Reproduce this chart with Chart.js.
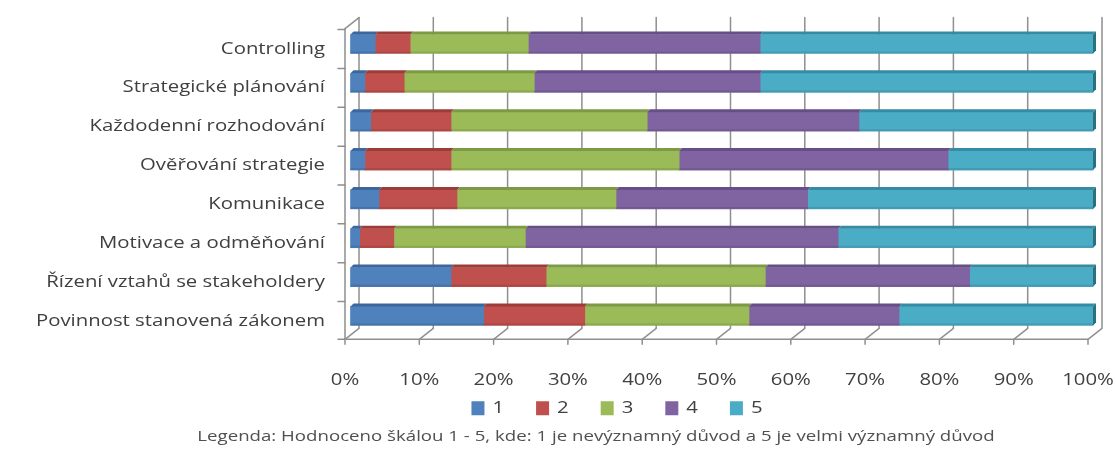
<!DOCTYPE html>
<html>
<head>
<meta charset="utf-8">
<script src="https://cdn.jsdelivr.net/npm/chart.js@4.4.1/dist/chart.umd.min.js"></script>
<style>
  html, body { margin: 0; padding: 0; background: #ffffff; }
  #wrap { width: 1116px; height: 452px; }
</style>
</head>
<body>
<div id="wrap"><canvas id="chart" width="1116" height="452"></canvas></div>
<script>
// Reasons, each rated on a 1–5 scale (share of respondents, %)
const categories = [
  'Controlling',
  'Strategické plánování',
  'Každodenní rozhodování',
  'Ověřování strategie',
  'Komunikace',
  'Motivace a odměňování',
  'Řízení vztahů se stakeholdery',
  'Povinnost stanovená zákonem'
];
const seriesNames = ['1', '2', '3', '4', '5'];
const score1 = [3.4, 2.0, 2.8, 2.0, 3.9, 1.3, 13.6, 18.0];
const score2 = [4.7, 5.3, 10.8, 11.6, 10.5, 4.6, 12.8, 13.6];
const score3 = [15.9, 17.5, 26.4, 30.7, 21.4, 17.7, 29.5, 22.1];
const score4 = [31.2, 30.4, 28.5, 36.2, 25.8, 42.1, 27.5, 20.2];
const score5 = [44.8, 44.8, 31.5, 19.5, 38.4, 34.3, 16.6, 26.1];
const xTicks = [0, 10, 20, 30, 40, 50, 60, 70, 80, 90, 100];
const caption = 'Legenda: Hodnoceno škálou 1 - 5, kde: 1 je nevýznamný důvod a 5 je velmi významný důvod';

const faceColors = ['#4f81bd', '#c0504d', '#9bbb59', '#8064a2', '#4bacc6'];
const topColors  = ['#3b679c', '#9c3c39', '#7c9a45', '#654f86', '#358ba3'];
const sideColors = ['#2f5580', '#7f302e', '#627a36', '#4f3d69', '#2a6f82'];

// depth of the 3-D box (back wall is shifted right and up)
const DEPTH_X = 14, DEPTH_Y = -11;
// bars sit in the middle of the depth
const BAR_DX = 5, BAR_DY = -5;
const LINE = '#8f8f8f';
const FONT = "'Open Sans', 'DejaVu Sans', sans-serif";
// wide text: glyphs are drawn horizontally expanded
const TEXT_STRETCH = 1.27;
// legend row and caption sit right of the canvas centre
const LEGEND_SHIFT = 73, CAPTION_SHIFT = 52;
const LEGEND_GAP = 28;     // from the floor edge to the legend box top
const LEGEND_BOX_H = 64;   // drawing area of the legend row

const canvas = document.getElementById('chart');
const context = canvas.getContext('2d');
(function expandText(ctx) {
  const fill = ctx.fillText.bind(ctx);
  const measure = ctx.measureText.bind(ctx);
  ctx.fillText = function (text, x, y, maxWidth) {
    ctx.save();
    ctx.translate(x, y);
    ctx.scale(TEXT_STRETCH, 1);
    if (maxWidth !== undefined) fill(text, 0, 0, maxWidth / TEXT_STRETCH);
    else fill(text, 0, 0);
    ctx.restore();
  };
  ctx.measureText = function (text) {
    const m = measure(text);
    return {
      width: m.width * TEXT_STRETCH,
      actualBoundingBoxLeft: m.actualBoundingBoxLeft * TEXT_STRETCH,
      actualBoundingBoxRight: m.actualBoundingBoxRight * TEXT_STRETCH,
      actualBoundingBoxAscent: m.actualBoundingBoxAscent,
      actualBoundingBoxDescent: m.actualBoundingBoxDescent
    };
  };
})(context);

const walls3d = {
  id: 'walls3d',
  afterLayout(chart) {
    const lg = chart.legend;
    lg.left += LEGEND_SHIFT;
    lg.right += LEGEND_SHIFT;
    lg.top = chart.chartArea.bottom + LEGEND_GAP;
    lg.bottom = lg.top + LEGEND_BOX_H;
    lg.height = LEGEND_BOX_H;
    chart.titleBlock.left += CAPTION_SHIFT;
    chart.titleBlock.right += CAPTION_SHIFT;
  },
  beforeDatasetsDraw(chart) {
    const ctx = chart.ctx;
    const xs = chart.scales.x;
    const area = chart.chartArea;
    const floorY = area.bottom - 1;
    const topY = area.top - 12;
    ctx.save();
    ctx.strokeStyle = LINE;
    ctx.lineWidth = 1.5;
    ctx.lineCap = 'round';
    // back wall grid lines, floor slants and floor ticks
    xTicks.forEach(v => {
      const fx = xs.getPixelForValue(v);
      ctx.beginPath();
      ctx.moveTo(fx + DEPTH_X, topY);
      ctx.lineTo(fx + DEPTH_X, floorY + DEPTH_Y);
      ctx.lineTo(fx, floorY);
      ctx.lineTo(fx, floorY + 5);
      ctx.stroke();
    });
    // front floor edge
    ctx.beginPath();
    ctx.moveTo(xs.getPixelForValue(0), floorY);
    ctx.lineTo(xs.getPixelForValue(100), floorY);
    ctx.stroke();
    // left wall front edge with category tick marks
    const lx = xs.getPixelForValue(0);
    ctx.beginPath();
    ctx.moveTo(lx + DEPTH_X, topY);
    ctx.lineTo(lx, topY - DEPTH_Y);
    ctx.lineTo(lx, floorY);
    ctx.stroke();
    const n = categories.length;
    const band = (area.bottom - area.top) / n;
    for (let i = 0; i <= n; i++) {
      const y = Math.min(area.top + band * i, floorY);
      ctx.beginPath();
      ctx.moveTo(lx - 7, y);
      ctx.lineTo(lx, y);
      ctx.stroke();
    }
    ctx.restore();
    // shift the bars to mid-depth
    ctx.save();
    ctx.translate(BAR_DX, BAR_DY);
  },
  afterDatasetsDraw(chart) {
    const ctx = chart.ctx;
    const last = chart.data.datasets.length - 1;
    chart.data.datasets.forEach((ds, di) => {
      const meta = chart.getDatasetMeta(di);
      meta.data.forEach(bar => {
        const p = bar.getProps(['x', 'y', 'base', 'height'], true);
        const left = Math.min(p.base, p.x), right = Math.max(p.base, p.x);
        const top = p.y - p.height / 2, bottom = p.y + p.height / 2;
        // top face
        ctx.fillStyle = topColors[di];
        ctx.beginPath();
        ctx.moveTo(left, top);
        ctx.lineTo(right, top);
        ctx.lineTo(right + 3, top - 3);
        ctx.lineTo(left + 3, top - 3);
        ctx.closePath();
        ctx.fill();
        // subtle shading at the bottom of the front face
        ctx.fillStyle = 'rgba(0,0,0,0.10)';
        ctx.fillRect(left, bottom - 2, right - left, 2);
        // right side face of the last segment
        if (di === last) {
          ctx.fillStyle = sideColors[di];
          ctx.beginPath();
          ctx.moveTo(right, top);
          ctx.lineTo(right + 3, top - 3);
          ctx.lineTo(right + 3, bottom - 3);
          ctx.lineTo(right, bottom);
          ctx.closePath();
          ctx.fill();
        }
      });
    });
    ctx.restore();
  }
};

const seriesValues = [score1, score2, score3, score4, score5];
const datasets = seriesNames.map((name, i) => ({
  label: name,
  data: seriesValues[i],
  backgroundColor: faceColors[i],
  borderWidth: 0,
  barThickness: 19,
  clip: false
}));

new Chart(canvas, {
  type: 'bar',
  data: { labels: categories, datasets },
  options: {
    indexAxis: 'y',
    responsive: false,
    animation: false,
    events: [],
    layout: { padding: { top: 27, right: 28, left: 0, bottom: 2 } },
    scales: {
      x: {
        stacked: true,
        min: 0,
        max: 100,
        afterBuildTicks(scale) { scale.ticks = xTicks.map(v => ({ value: v })); },
        afterFit(scale) { scale.height = 50; },
        // invisible tick marks keep the labels clear of the floor
        grid: {
          display: true,
          drawOnChartArea: false,
          drawTicks: true,
          tickLength: 28,
          tickColor: 'rgba(0,0,0,0)'
        },
        border: { display: false },
        ticks: {
          padding: 2,
          color: '#404040',
          font: { family: FONT, size: 16 },
          maxRotation: 0,
          autoSkip: false,
          callback: v => v + '%'
        }
      },
      y: {
        stacked: true,
        afterFit(scale) { scale.width = 345; },
        grid: { display: false, drawTicks: false },
        border: { display: false },
        ticks: {
          padding: 20,
          color: '#404040',
          font: { family: FONT, size: 16 },
          autoSkip: false
        }
      }
    },
    plugins: {
      legend: {
        position: 'bottom',
        maxHeight: 36,
        labels: {
          boxWidth: 13,
          boxHeight: 14,
          padding: 32,
          color: '#404040',
          font: { family: FONT, size: 16 }
        }
      },
      title: {
        display: true,
        position: 'bottom',
        text: caption,
        color: '#505050',
        font: { family: FONT, size: 14.7, weight: 'normal' },
        padding: { top: 2, bottom: 4 }
      },
      tooltip: { enabled: false }
    }
  },
  plugins: [walls3d]
});
</script>
</body>
</html>
